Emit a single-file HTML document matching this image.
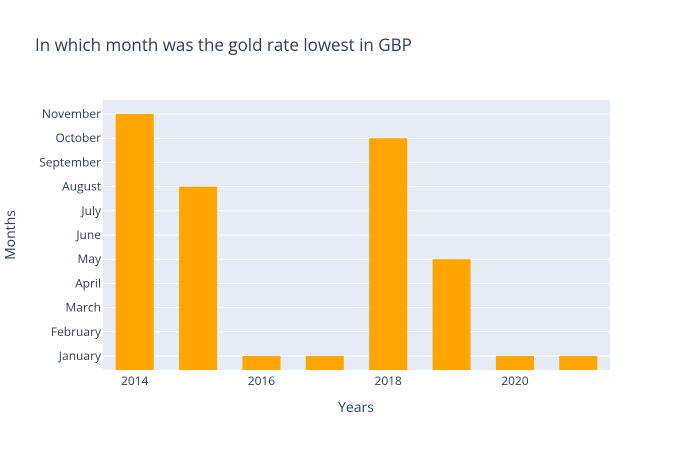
<!DOCTYPE html>
<html><head><meta charset="utf-8"><style>
body{margin:0;background:#fff;}
svg{font-family:"Open Sans","Liberation Sans",sans-serif;}
</style></head><body>
<svg id="chart" width="690" height="450">
<rect x="0" y="0" width="690" height="450" fill="#fff"/>
<text x="35" y="51" font-size="17" fill="#2a3f5f">In which month was the gold rate lowest in GBP</text>
<rect x="103" y="100" width="507" height="270" fill="#e5ecf6"/>
<g id="grid"></g><g id="bars"></g><g id="yticks"></g><g id="xticks"></g>
<text x="356" y="412" font-size="14" fill="#2a3f5f" text-anchor="middle">Years</text>
<text transform="translate(15,235) rotate(-90)" font-size="14" fill="#2a3f5f" text-anchor="middle">Months</text>
</svg>
<script>
const months=["January","February","March","April","May","June","July","August","September","October","November"];
const years=[2014,2015,2016,2017,2018,2019,2020,2021];
const values=["November","August","January","January","October","May","January","January"];
const xTicks=[2014,2016,2018,2020];
const NS="http://www.w3.org/2000/svg";
const L=103,R=610,T=101.9,B=368.1,PB=370;
const x=v=>L+(v-2013.5)/8*(R-L);
const y=i=>B-(i+0.5)/11*(B-T);
function mk(tag,a,p){const e=document.createElementNS(NS,tag);for(const k in a)e.setAttribute(k,a[k]);document.getElementById(p).appendChild(e);return e;}
months.forEach((m,i)=>{
 const g=mk('line',{x1:L,x2:R,y1:y(i),y2:y(i),stroke:'#fff','stroke-width':1},'grid');
 
 
 const t=mk('text',{x:L-2,y:y(i)+4,'font-size':12,fill:'#2a3f5f','text-anchor':'end'},'yticks');
 t.textContent=m;
 
 
});
const w=(R-L)/8*0.6;
years.forEach((yr,i)=>{
 const idx=months.indexOf(values[i]);
 const top=y(idx);
 const b=mk('rect',{x:x(yr)-w/2,y:top,width:w,height:PB-top,fill:'#FFA500'},'bars');
 
 
});
xTicks.forEach(v=>{
 const t=mk('text',{x:x(v),y:PB+15,'font-size':12,fill:'#2a3f5f','text-anchor':'middle'},'xticks');
 t.textContent=v;
 
 
});
</script>
</body></html>
